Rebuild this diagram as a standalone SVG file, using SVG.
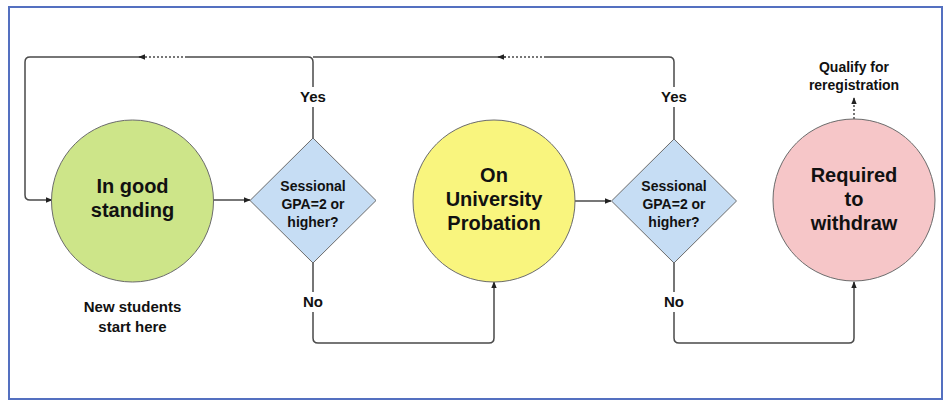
<svg xmlns="http://www.w3.org/2000/svg" width="947" height="402" viewBox="0 0 947 402">
<defs>
<style>
.t{font-family:"Liberation Sans",Arial,sans-serif;font-weight:bold;fill:#111;text-anchor:middle}
.big{font-size:20px}
.mid{font-size:14px}
.lbl{font-size:15px}
.node{stroke:#6b6b6b;stroke-width:1}
.edge{fill:none;stroke:#4a4a4a;stroke-width:1.5;stroke-linejoin:round}
.dot{fill:none;stroke:#4a4a4a;stroke-width:1.5;stroke-dasharray:2 2}
</style>
<marker id="ah" viewBox="0 0 10 10" refX="9" refY="5" markerWidth="7" markerHeight="7" orient="auto" markerUnits="userSpaceOnUse">
<path d="M0,1 L10,5 L0,9 Z" fill="#222"/>
</marker>
</defs>
<rect x="0" y="0" width="947" height="402" fill="#fff"/>
<rect x="9" y="7" width="933" height="392" fill="#fff" stroke="#5470c0" stroke-width="2"/>

<g id="connectors">
<!-- Yes loop from diamond 1 -->
<path class="edge" d="M313,138 V62 Q313,57 308,57 H187"/>
<path class="dot" d="M187,57 H141"/>
<path class="edge" d="M141,57 H30 Q25,57 25,62 V195 Q25,200 30,200 H52" marker-end="url(#ah)"/>
<path class="edge" d="M145,57 H139" marker-end="url(#ah)"/>
<!-- Yes loop from diamond 2 -->
<path class="edge" d="M674,139 V62 Q674,57 669,57 H546"/>
<path class="dot" d="M546,57 H500"/>
<path class="edge" d="M500,57 H313"/>
<path class="edge" d="M506,57 H498" marker-end="url(#ah)"/>
<!-- forward arrows -->
<path class="edge" d="M213,200 H250" marker-end="url(#ah)"/>
<path class="edge" d="M575,201 H611" marker-end="url(#ah)"/>
<!-- No paths -->
<path class="edge" d="M313,263 V338 Q313,343 318,343 H489 Q494,343 494,338 V282" marker-end="url(#ah)"/>
<path class="edge" d="M674,263 V338 Q674,343 679,343 H849 Q854,343 854,338 V282" marker-end="url(#ah)"/>
<!-- dotted up arrow from withdraw -->
<path class="dot" d="M854,119 V104"/>
<path class="edge" d="M854,104 V98" marker-end="url(#ah)"/>
<!-- labels -->
<rect x="296" y="87" width="34" height="20" fill="#fff"/>
<text class="t lbl" x="313" y="102">Yes</text>
<rect x="657" y="87" width="34" height="20" fill="#fff"/>
<text class="t lbl" x="674" y="102">Yes</text>
<rect x="300" y="292" width="26" height="20" fill="#fff"/>
<text class="t lbl" x="313" y="307">No</text>
<rect x="661" y="292" width="26" height="20" fill="#fff"/>
<text class="t lbl" x="674" y="307">No</text>
</g>

<g id="good-standing">
<circle class="node" cx="132.5" cy="201" r="81" fill="#cde589"/>
<text class="t big" x="132.5" y="193">In good</text>
<text class="t big" x="132.5" y="217">standing</text>
</g>

<g id="new-students">
<text class="t lbl" x="132.5" y="312">New students</text>
<text class="t lbl" x="132.5" y="332">start here</text>
</g>

<g id="decision-1">
<polygon class="node" points="313,138 376,200.5 313,263 250,200.5" fill="#c6ddf4"/>
<text class="t mid" x="313" y="191">Sessional</text>
<text class="t mid" x="313" y="209">GPA=2 or</text>
<text class="t mid" x="313" y="227">higher?</text>
</g>

<g id="probation">
<circle class="node" cx="494" cy="201" r="81" fill="#f9f57e"/>
<text class="t big" x="494" y="182">On</text>
<text class="t big" x="494" y="206">University</text>
<text class="t big" x="494" y="230">Probation</text>
</g>

<g id="decision-2">
<polygon class="node" points="674,139 736.5,201 674,263 611.5,201" fill="#c6ddf4"/>
<text class="t mid" x="674" y="191">Sessional</text>
<text class="t mid" x="674" y="209">GPA=2 or</text>
<text class="t mid" x="674" y="227">higher?</text>
</g>

<g id="withdraw">
<circle class="node" cx="854" cy="200" r="81" fill="#f6c6c8"/>
<text class="t big" x="854" y="182">Required</text>
<text class="t big" x="854" y="206">to</text>
<text class="t big" x="854" y="230">withdraw</text>
</g>

<g id="reregistration">
<text class="t mid" x="854" y="72">Qualify for</text>
<text class="t mid" x="854" y="90">reregistration</text>
</g>
</svg>
